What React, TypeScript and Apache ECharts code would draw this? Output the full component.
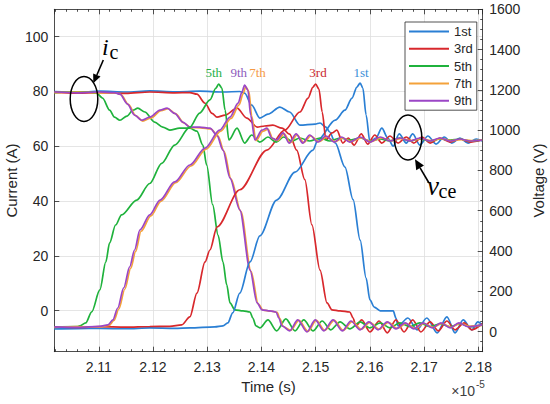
import React, { useEffect, useRef } from "react";
import * as echarts from "echarts";

// ---------- data (time in units of 1e-5 s) ----------
const pulseNames = ["1st", "3rd", "5th", "7th", "9th"];
const lineColors = ["#2a7fd4", "#d8282c", "#1fb23c", "#f4a23a", "#9b46c6"];
const peakLabelColors = ["#3b8fd8", "#c9282d", "#27b14a", "#f59a45", "#8e5cbc"];

const xRange = [2.1018, 2.1808];
const currentRange = [-15, 110];
const voltageRange = [-100, 1600];

// collector current (A)
const cur1st: [number, number][] = [
  [2.1018, 80.0], [2.106, 79.7], [2.1102, 80.1], [2.115, 79.8], [2.1194, 80.2], [2.124, 79.9],
  [2.1286, 80.1], [2.133, 79.8], [2.136, 80.0], [2.1369, 79.4], [2.1382, 75.0], [2.1397, 70.3],
  [2.1412, 71.7], [2.1434, 74.3], [2.1452, 72.5], [2.1471, 67.7], [2.1499, 68.1], [2.1508, 68.5],
  [2.1519, 67.0], [2.1526, 65.2], [2.1536, 61.2], [2.1554, 52.4], [2.1569, 40.5], [2.1582, 25.7],
  [2.1593, 11.9], [2.16, 3.9], [2.1608, 1.3], [2.1619, -0.1], [2.1643, -0.1], [2.1648, -2.7],
  [2.1652, -5.6], [2.167, -2.7], [2.1687, -7.0], [2.1705, -2.7], [2.1724, -8.1], [2.1742, -2.3],
  [2.1757, -8.1], [2.1772, -3.4], [2.1788, -7.0], [2.1799, -4.1], [2.1807, -5.2],
];
const cur3rd: [number, number][] = [
  [2.1018, 79.7], [2.106, 79.4], [2.1102, 79.6], [2.115, 79.3], [2.1194, 79.8], [2.124, 79.5],
  [2.1268, 79.6], [2.1281, 79.0], [2.1296, 75.7], [2.1309, 72.0], [2.1318, 70.6], [2.1333, 71.4],
  [2.1355, 73.9], [2.1373, 70.3], [2.1392, 67.0], [2.1406, 67.4], [2.1421, 67.7], [2.1438, 66.6],
  [2.1452, 64.4], [2.1465, 58.6], [2.148, 47.8], [2.1493, 31.3], [2.1508, 14.8], [2.1521, 2.8],
  [2.153, 0.3], [2.1545, -0.1], [2.1563, -0.5], [2.1569, -2.7], [2.1574, -5.6], [2.1585, -3.4],
  [2.16, -7.8], [2.1617, -3.8], [2.1632, -8.1], [2.1648, -3.4], [2.1663, -7.8], [2.1679, -3.4],
  [2.1694, -7.8], [2.1711, -4.1], [2.1726, -7.4], [2.1742, -3.8], [2.1757, -7.0], [2.1774, -4.5],
  [2.1788, -7.0], [2.1807, -4.8],
];
const cur5th: [number, number][] = [
  [2.1018, 79.6], [2.106, 79.9], [2.1083, 79.8], [2.1096, 79.4], [2.1107, 77.6], [2.112, 73.2],
  [2.1129, 70.6], [2.1139, 69.5], [2.1152, 71.0], [2.1163, 73.2], [2.1172, 73.9], [2.1185, 72.5],
  [2.1203, 68.8], [2.1218, 67.0], [2.1231, 65.9], [2.1249, 66.6], [2.1268, 66.6], [2.1281, 65.5],
  [2.1292, 60.4], [2.1299, 53.1], [2.131, 38.7], [2.132, 27.6], [2.1329, 17.8], [2.1336, 9.4],
  [2.1342, 2.8], [2.1351, 0.3], [2.1366, -0.1], [2.1379, -0.5], [2.1384, -2.7], [2.139, -5.6],
  [2.1397, -6.3], [2.1412, -3.4], [2.1428, -7.4], [2.1445, -3.0], [2.1462, -7.4], [2.1478, -3.4],
  [2.1495, -7.4], [2.1512, -3.8], [2.1528, -7.0], [2.1545, -4.1], [2.1563, -6.7], [2.1582, -4.1],
  [2.16, -6.3], [2.1619, -4.5], [2.1637, -6.3], [2.1655, -4.5], [2.1674, -5.9], [2.1692, -4.5],
  [2.1711, -5.9], [2.1729, -4.8], [2.1748, -5.9], [2.1766, -4.8], [2.1785, -5.9], [2.1807, -5.2],
];
const cur7th: [number, number][] = [
  [2.1018, 79.6], [2.106, 79.8], [2.1102, 79.5], [2.1131, 79.5], [2.1141, 78.9], [2.1155, 75.2],
  [2.1168, 71.2], [2.1181, 69.2], [2.1196, 70.3], [2.1215, 73.0], [2.1228, 73.7], [2.1242, 71.8],
  [2.1257, 68.5], [2.127, 66.8], [2.1288, 66.7], [2.1307, 66.3], [2.132, 63.7], [2.1331, 58.2],
  [2.1344, 48.0], [2.1362, 36.2], [2.1381, 14.2], [2.1394, 2.5], [2.1403, 0.2], [2.1418, -0.2],
  [2.1429, -0.6], [2.1434, -2.9], [2.144, -5.8], [2.1454, -7.2], [2.1469, -3.6], [2.1486, -7.6],
  [2.1501, -3.6], [2.1517, -7.2], [2.1534, -3.6], [2.1551, -7.2], [2.1567, -4.0], [2.1584, -6.8],
  [2.16, -4.3], [2.1617, -6.8], [2.1634, -4.3], [2.165, -6.5], [2.1667, -4.7], [2.1683, -6.5],
  [2.17, -4.7], [2.1717, -6.1], [2.1733, -4.7], [2.175, -6.1], [2.1766, -4.7], [2.1783, -5.7],
  [2.1807, -5.4],
];
const cur9th: [number, number][] = [
  [2.1018, 79.8], [2.106, 79.5], [2.1102, 79.8], [2.1129, 79.6], [2.1139, 79.0], [2.1153, 75.4],
  [2.1166, 71.4], [2.1179, 69.5], [2.1194, 70.6], [2.1213, 73.2], [2.1226, 73.9], [2.124, 72.0],
  [2.1255, 68.8], [2.1268, 67.0], [2.1286, 67.0], [2.1305, 66.6], [2.1318, 64.0], [2.1329, 58.6],
  [2.1342, 48.4], [2.136, 36.8], [2.1379, 14.8], [2.1392, 2.8], [2.1401, 0.3], [2.1416, -0.1],
  [2.1427, -0.5], [2.1432, -2.7], [2.1438, -5.6], [2.1452, -7.4], [2.1467, -3.4], [2.1484, -7.8],
  [2.1499, -3.4], [2.1515, -7.4], [2.1532, -3.4], [2.1549, -7.4], [2.1565, -3.8], [2.1582, -7.0],
  [2.1598, -4.1], [2.1615, -7.0], [2.1632, -4.1], [2.1648, -6.7], [2.1665, -4.5], [2.1681, -6.7],
  [2.1698, -4.5], [2.1715, -6.3], [2.1731, -4.5], [2.1748, -6.3], [2.1764, -4.5], [2.1781, -5.9],
  [2.1807, -5.2],
];

// collector-emitter voltage (V)
const vol1st: [number, number][] = [
  [2.1018, 13], [2.106, 15], [2.1102, 16], [2.115, 14], [2.1194, 18], [2.124, 16], [2.1268, 18],
  [2.1314, 23], [2.1329, 28], [2.1338, 43], [2.1347, 93], [2.136, 191], [2.1379, 346], [2.1397, 475],
  [2.1428, 653], [2.1462, 792], [2.1495, 901], [2.1504, 951], [2.1536, 1050], [2.1554, 1099],
  [2.1567, 1159], [2.1576, 1214], [2.1582, 1234], [2.1587, 1209], [2.1593, 1075], [2.16, 941],
  [2.1611, 961], [2.1622, 1010], [2.1633, 961], [2.1643, 921], [2.1654, 981], [2.1667, 936],
  [2.1679, 981], [2.1692, 926], [2.1707, 971], [2.1722, 931], [2.1737, 966], [2.1751, 936],
  [2.1766, 961], [2.1781, 936], [2.1796, 956], [2.1807, 946],
];
const vol3rd: [number, number][] = [
  [2.1018, 23], [2.106, 21], [2.1102, 24], [2.115, 22], [2.1194, 25], [2.1231, 26], [2.1253, 33],
  [2.1268, 73], [2.1281, 191], [2.1296, 346], [2.1305, 405], [2.1318, 519], [2.136, 704],
  [2.141, 901], [2.1443, 1000], [2.1471, 1090], [2.1486, 1159], [2.1495, 1214], [2.15, 1229],
  [2.1506, 1204], [2.1512, 1090], [2.1519, 951], [2.153, 986], [2.1539, 1000], [2.155, 936],
  [2.156, 961], [2.1571, 926], [2.1584, 981], [2.1596, 931], [2.1609, 976], [2.1622, 936],
  [2.1637, 971], [2.1652, 936], [2.1667, 966], [2.1681, 936], [2.1696, 966], [2.1711, 936],
  [2.1729, 961], [2.1748, 941], [2.1766, 956], [2.1785, 941], [2.1807, 951],
];
const vol5th: [number, number][] = [
  [2.1018, 23], [2.106, 25], [2.1065, 28], [2.1076, 43], [2.1087, 98], [2.1102, 207], [2.1113, 346],
  [2.112, 440], [2.1131, 529], [2.1142, 579], [2.117, 653], [2.1194, 735], [2.1216, 835],
  [2.124, 926], [2.1268, 1015], [2.1286, 1085], [2.1305, 1150], [2.1316, 1209], [2.1321, 1229],
  [2.1327, 1209], [2.1333, 1099], [2.134, 951], [2.1355, 1010], [2.1369, 936], [2.1382, 976],
  [2.1397, 941], [2.1412, 966], [2.1427, 941], [2.1441, 966], [2.1456, 946], [2.1471, 961],
  [2.1489, 946], [2.1508, 961], [2.1526, 946], [2.1545, 961], [2.1563, 951], [2.1582, 961],
  [2.16, 946], [2.1619, 956], [2.1637, 946], [2.1655, 961], [2.1674, 946], [2.1692, 956],
  [2.1711, 946], [2.1729, 956], [2.1748, 951], [2.1766, 956], [2.1785, 946], [2.1807, 951],
];
const vol7th: [number, number][] = [
  [2.1018, 21], [2.106, 24], [2.1102, 23], [2.1119, 31], [2.1128, 55], [2.1137, 112], [2.1148, 210],
  [2.1159, 315], [2.1168, 398], [2.1178, 498], [2.1196, 574], [2.1215, 648], [2.1242, 739],
  [2.127, 822], [2.1298, 906], [2.1325, 995], [2.1344, 1058], [2.1359, 1126], [2.1366, 1180],
  [2.1371, 1215], [2.1377, 1192], [2.1382, 1070], [2.139, 948], [2.1403, 995], [2.1412, 1005],
  [2.1421, 958], [2.143, 948], [2.1442, 981], [2.1453, 938], [2.1466, 976], [2.1478, 938],
  [2.1491, 971], [2.1506, 943], [2.1521, 966], [2.1536, 943], [2.155, 961], [2.1565, 943],
  [2.1584, 961], [2.1602, 943], [2.1621, 961], [2.1639, 948], [2.1657, 958], [2.1676, 948],
  [2.1694, 958], [2.1713, 948], [2.1731, 958], [2.175, 948], [2.1768, 953], [2.1787, 948],
  [2.1807, 951],
];
const vol9th: [number, number][] = [
  [2.1018, 23], [2.106, 21], [2.1102, 26], [2.1117, 33], [2.1126, 58], [2.1135, 117], [2.1146, 217],
  [2.1157, 321], [2.1166, 405], [2.1176, 505], [2.1194, 579], [2.1213, 653], [2.124, 743],
  [2.1268, 827], [2.1296, 911], [2.1323, 1000], [2.1342, 1065], [2.1357, 1134], [2.1364, 1189],
  [2.1369, 1224], [2.1375, 1199], [2.138, 1075], [2.1388, 951], [2.1401, 1000], [2.141, 1010],
  [2.1419, 961], [2.1428, 951], [2.144, 986], [2.1451, 936], [2.1464, 981], [2.1476, 936],
  [2.1489, 976], [2.1504, 941], [2.1519, 971], [2.1534, 941], [2.1548, 966], [2.1563, 941],
  [2.1582, 966], [2.16, 941], [2.1619, 966], [2.1637, 946], [2.1655, 961], [2.1674, 946],
  [2.1692, 961], [2.1711, 946], [2.1729, 961], [2.1748, 946], [2.1766, 956], [2.1785, 946],
  [2.1807, 951],
];

const currents = [cur1st, cur3rd, cur5th, cur7th, cur9th];
const voltages = [vol1st, vol3rd, vol5th, vol7th, vol9th];

// ---------- styling ----------
const AX = "#262626";
const SANS = "'Liberation Sans', Arial, sans-serif";
const SERIF = "'Liberation Serif', 'Times New Roman', serif";

function arrow(x0: number, y0: number, tx: number, ty: number, len: number, hw: number) {
  const dx = tx - x0, dy = ty - y0;
  const L = Math.sqrt(dx * dx + dy * dy);
  const ux = dx / L, uy = dy / L;
  const bx = tx - len * ux, by = ty - len * uy;
  const nx = -uy, ny = ux;
  return [
    { type: "line", z: 100, shape: { x1: x0, y1: y0, x2: bx, y2: by }, style: { stroke: "#000", lineWidth: 1.6 } },
    {
      type: "polygon", z: 100,
      shape: { points: [[tx, ty], [bx + hw * nx, by + hw * ny], [bx - hw * nx, by - hw * ny]] },
      style: { fill: "#000" },
    },
  ];
}

export default function App() {
  const ref = useRef<HTMLDivElement>(null);
  useEffect(() => {
    if (!ref.current) return;
    const chart = echarts.init(ref.current, undefined, { renderer: "svg" });

    const series: any[] = [];
    pulseNames.forEach((n, i) => {
      series.push({
        type: "line", name: n, data: currents[i], xAxisIndex: 0, yAxisIndex: 0,
        showSymbol: false, symbol: "none", smooth: 0.3, smoothMonotone: "x",
        lineStyle: { color: lineColors[i], width: 1.7 }, itemStyle: { color: lineColors[i] },
        emphasis: { disabled: true }, z: 2,
      });
    });
    pulseNames.forEach((n, i) => {
      series.push({
        type: "line", name: n, data: voltages[i], xAxisIndex: 0, yAxisIndex: 1,
        showSymbol: false, symbol: "none", smooth: 0.3, smoothMonotone: "x",
        lineStyle: { color: lineColors[i], width: 1.7 }, itemStyle: { color: lineColors[i] },
        emphasis: { disabled: true }, z: 3,
      });
    });

    const tickStyle = { color: AX, width: 0.8 };
    const peakLabelX = [361, 318, 213.7, 257.5, 238.8];

    const graphic: any[] = [
      { type: "text", z: 100, x: 11.5, y: 180.5, rotation: Math.PI / 2,
        style: { text: "Current (A)", fontSize: 15, fontFamily: SANS, fill: AX, align: "center", verticalAlign: "middle" } },
      { type: "text", z: 100, x: 538, y: 180.5, rotation: Math.PI / 2,
        style: { text: "Voltage (V)", fontSize: 15, fontFamily: SANS, fill: AX, align: "center", verticalAlign: "middle" } },
      { type: "text", z: 100, x: 268.5, y: 386,
        style: { text: "Time (s)", fontSize: 15, fontFamily: SANS, fill: AX, align: "center", verticalAlign: "middle" } },
      { type: "text", z: 100, x: 475, y: 391,
        style: { text: "×10", fontSize: 14, fontFamily: SANS, fill: "#404040", align: "right", verticalAlign: "middle" } },
      { type: "text", z: 100, x: 476, y: 384,
        style: { text: "-5", fontSize: 10, fontFamily: SANS, fill: "#404040", align: "left", verticalAlign: "middle" } },
      // i_c annotation
      { type: "text", z: 100, x: 102, y: 47,
        style: { text: "i", fontSize: 24, fontStyle: "italic", fontFamily: SERIF, fill: "#000", align: "left", verticalAlign: "middle" } },
      { type: "text", z: 100, x: 109.5, y: 52.3,
        style: { text: "c", fontSize: 20, fontFamily: SERIF, fill: "#000", align: "left", verticalAlign: "middle" } },
      { type: "ellipse", z: 100, shape: { cx: 84, cy: 99, rx: 13.8, ry: 22.5 }, style: { fill: "none", stroke: "#000", lineWidth: 1.5 } },
      ...arrow(103.3, 60, 93.3, 83.3, 9, 4),
      // v_ce annotation
      { type: "text", z: 100, x: 427, y: 186,
        style: { text: "v", fontSize: 27, fontStyle: "italic", fontFamily: SERIF, fill: "#000", align: "left", verticalAlign: "middle" } },
      { type: "text", z: 100, x: 438.5, y: 191.3,
        style: { text: "ce", fontSize: 20, fontFamily: SERIF, fill: "#000", align: "left", verticalAlign: "middle" } },
      { type: "ellipse", z: 100, shape: { cx: 408, cy: 137.5, rx: 13.8, ry: 22.5 }, style: { fill: "none", stroke: "#000", lineWidth: 1.5 } },
      ...arrow(429, 183, 415, 159.3, 10, 4.5),
    ];
    pulseNames.forEach((n, i) => {
      graphic.push({
        type: "text", z: 100, x: peakLabelX[i], y: 72.3,
        style: { text: n, fontSize: 13, fontFamily: SERIF, fill: peakLabelColors[i], align: "center", verticalAlign: "middle" },
      });
    });

    const option: any = {
      animation: false,
      backgroundColor: "#ffffff",
      grid: { left: 54.3, top: 9.3, width: 428.4, height: 342.4, containLabel: false },
      legend: {
        show: true, orient: "vertical", left: 405, top: 22,
        data: pulseNames.map((n) => ({ name: n, icon: "rect" })),
        itemWidth: 40, itemHeight: 2, itemGap: 4.3,
        padding: [3, 4, 3, 4],
        backgroundColor: "#ffffff", borderColor: AX, borderWidth: 0.8, borderRadius: 0,
        textStyle: { fontSize: 13, lineHeight: 13, color: AX, fontFamily: SANS },
        selectedMode: false,
      },
      xAxis: [
        {
          type: "value", gridIndex: 0, position: "bottom", min: xRange[0], max: xRange[1],
          minInterval: 0.01, maxInterval: 0.01,
          axisLine: { show: true, onZero: false, lineStyle: tickStyle },
          axisTick: { show: true, inside: true, length: 5, lineStyle: tickStyle },
          minorTick: { show: true, splitNumber: 5, length: 2.5, lineStyle: tickStyle },
          splitLine: { show: true, lineStyle: { color: "#dedede", width: 0.8 } },
          axisLabel: {
            show: true, margin: 8, fontSize: 14, color: AX, fontFamily: SANS,
            showMinLabel: false, showMaxLabel: false,
            formatter: (v: number) => v.toFixed(2),
          },
        },
        {
          type: "value", gridIndex: 0, position: "top", min: xRange[0], max: xRange[1],
          minInterval: 0.01, maxInterval: 0.01,
          axisLine: { show: true, onZero: false, lineStyle: tickStyle },
          axisTick: { show: true, inside: true, length: 5, lineStyle: tickStyle },
          minorTick: { show: true, splitNumber: 5, length: 2.5, lineStyle: tickStyle },
          splitLine: { show: false },
          axisLabel: { show: false },
        },
      ],
      yAxis: [
        {
          type: "value", position: "left", min: currentRange[0], max: currentRange[1],
          minInterval: 20, maxInterval: 20,
          axisLine: { show: true, onZero: false, lineStyle: tickStyle },
          axisTick: { show: true, inside: true, length: 5, lineStyle: tickStyle },
          splitLine: { show: true, lineStyle: { color: "#dedede", width: 0.8 } },
          axisLabel: {
            show: true, margin: 6, fontSize: 14, color: AX, fontFamily: SANS,
            showMinLabel: false, showMaxLabel: false,
            formatter: (v: number) => String(Math.round(v)),
          },
        },
        {
          type: "value", position: "right", min: voltageRange[0], max: voltageRange[1],
          minInterval: 200, maxInterval: 200,
          axisLine: { show: true, onZero: false, lineStyle: tickStyle },
          axisTick: { show: true, inside: true, length: 5, lineStyle: tickStyle },
          minorTick: { show: true, splitNumber: 4, length: 2.5, lineStyle: tickStyle },
          splitLine: { show: false },
          axisLabel: {
            show: true, margin: 6.5, fontSize: 14, color: AX, fontFamily: SANS,
            showMinLabel: false, showMaxLabel: true,
            formatter: (v: number) => String(Math.round(v)),
          },
        },
      ],
      series,
      graphic,
    };

    chart.setOption(option);
    return () => chart.dispose();
  }, []);

  return (
    <div
      ref={ref}
      style={{ position: "fixed", left: 0, top: 0, width: 550, height: 404, background: "#fff" }}
    />
  );
}
